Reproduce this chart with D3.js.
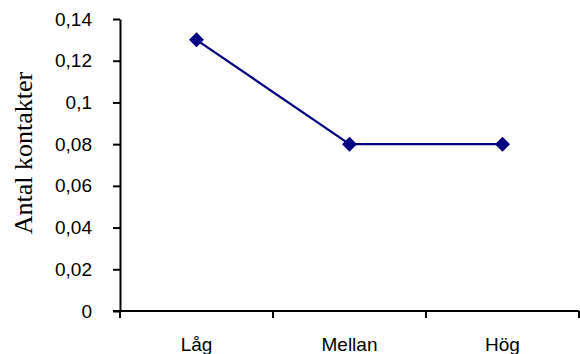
<!DOCTYPE html>
<html><head><meta charset="utf-8">
<script src="https://cdn.jsdelivr.net/npm/d3@7"></script>
<style>body{margin:0;background:#fff}svg{display:block}</style>
</head><body>
<svg id="c" width="580" height="354"></svg>
<script>
const categories = ["Låg", "Mellan", "Hög"];
const values = [0.13, 0.08, 0.08];
const yTicks = [0, 0.02, 0.04, 0.06, 0.08, 0.1, 0.12, 0.14];
const yLabel = "Antal kontakter";

const svg = d3.select("#c");
const x = d3.scaleBand().domain(categories).range([120, 579]);
const y = d3.scaleLinear().domain([0, 0.14]).range([311, 19]);
const fmt = d => String(+d.toFixed(2)).replace(".", ",");

const ya = svg.append("g").attr("transform", "translate(120,0)")
  .call(d3.axisLeft(y).tickValues(yTicks).tickFormat(fmt).tickSize(7).tickSizeOuter(0).tickPadding(21));
ya.select(".domain").attr("stroke", "#000").attr("stroke-width", 2);
ya.selectAll(".tick line").attr("stroke", "#000").attr("stroke-width", 2);
ya.selectAll("text").attr("font-family", "Liberation Sans, Arial, sans-serif").attr("font-size", 19).attr("fill", "#000");

const xa = svg.append("g").attr("transform", "translate(0,311)");
xa.append("line").attr("x1", 113).attr("x2", 579).attr("stroke", "#000").attr("stroke-width", 2);
const bounds = categories.map(c => x(c)).concat([x.range()[1]]);
xa.selectAll("line.tk").data(bounds).join("line").attr("class", "tk")
  .attr("x1", d => d).attr("x2", d => d).attr("y1", 0).attr("y2", 7)
  .attr("stroke", "#000").attr("stroke-width", 2);
xa.selectAll("text").data(categories).join("text")
  .attr("x", d => x(d) + x.bandwidth() / 2).attr("y", 40)
  .attr("text-anchor", "middle")
  .attr("font-family", "Liberation Sans, Arial, sans-serif").attr("font-size", 19)
  .text(d => d);

svg.append("text")
  .attr("transform", "translate(32,153) rotate(-90)")
  .attr("text-anchor", "middle")
  .attr("font-family", "Liberation Serif, Times New Roman, serif").attr("font-size", 26)
  .text(yLabel);

const cx = d => x(d) + x.bandwidth() / 2;
const line = d3.line().x((d, i) => cx(categories[i])).y(d => y(d));
svg.append("path").datum(values).attr("d", line)
  .attr("fill", "none").attr("stroke", "#000080").attr("stroke-width", 2.2);
svg.selectAll("path.m").data(values).join("path").attr("class", "m")
  .attr("d", d3.symbol(d3.symbolSquare, 112))
  .attr("transform", (d, i) => `translate(${cx(categories[i])},${y(d)}) rotate(45)`)
  .attr("fill", "#000080");
</script>
</body></html>
